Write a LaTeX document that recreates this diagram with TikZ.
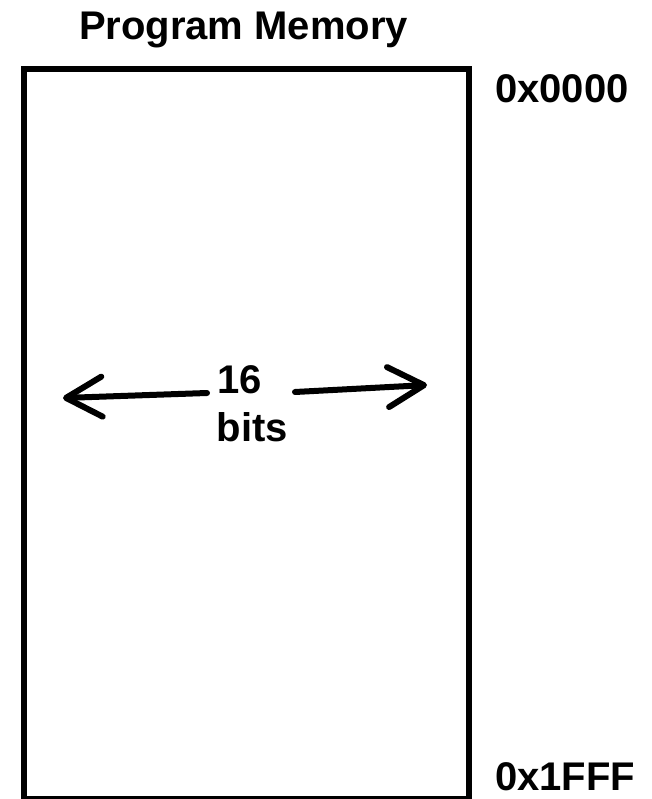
\documentclass[tikz,border=0pt]{standalone}
\usepackage{fontspec}
\setmainfont{Liberation Sans}
\usetikzlibrary{arrows.meta}
\begin{document}
\begin{tikzpicture}[x=1pt,y=-1pt,
  lbl/.style={font=\fontsize{40}{48}\selectfont\bfseries, inner sep=0pt},
  membox/.style={draw=black, line width=6pt, fill=white, inner sep=0pt,
                 minimum width=445pt, minimum height=729pt},
  widtharrow/.style={line width=6pt, line cap=round, line join=round,
                     -{Straight Barb[length=36pt,width=40pt,line join=round,line cap=round]}}]
  \useasboundingbox (0,0) rectangle (652,799);

  % memory block
  \node[membox] (mem) at (246.5,434) {};

  % title and address labels
  \node[lbl, anchor=base] (title) at (243.5,40) {Program Memory};
  \node[lbl, anchor=base west] (top) at (495,103) {0x0000};
  \node[lbl, anchor=base west] (bottom) at (495,790) {0x1FFF};

  % word width label
  \node[lbl, anchor=base] (num) at (240,393) {16};
  \node[lbl, anchor=base] (unit) at (252.5,441) {bits};

  % width arrows
  \coordinate (lstart) at (207,393);
  \coordinate (ltip) at (63,398);
  \coordinate (rstart) at (295,392);
  \coordinate (rtip) at (427,385);
  \draw[widtharrow] (lstart) -- (ltip);
  \draw[widtharrow] (rstart) -- (rtip);
\end{tikzpicture}
\end{document}
